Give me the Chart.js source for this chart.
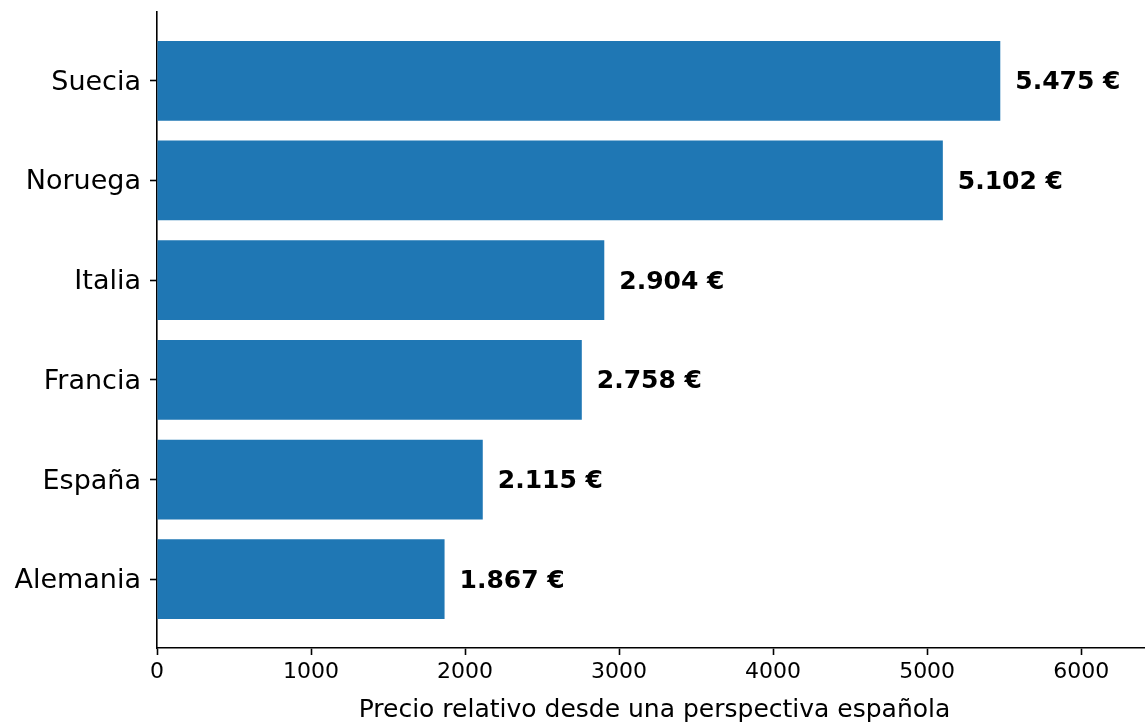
<!DOCTYPE html>
<html>
<head>
<meta charset="utf-8">
<script src="https://cdn.jsdelivr.net/npm/chart.js@4/dist/chart.umd.min.js"></script>
<style>
  html, body { margin: 0; padding: 0; background: #fff; overflow: hidden; }
  #wrap { width: 1152px; height: 725px; }
</style>
</head>
<body>
<div id="wrap"><canvas id="chart" width="1152" height="725"></canvas></div>
<script>
// bottom to top, as in the original plot
const countries = ['Alemania', 'España', 'Francia', 'Italia', 'Noruega', 'Suecia'];
const prices = [1867, 2115, 2758, 2904, 5102, 5475];
const xTicks = [0, 1000, 2000, 3000, 4000, 5000, 6000];

function euro(v) {
  return v.toLocaleString('es-ES', { useGrouping: 'always' }).replace(/\s/g, '.').replace(',', '.') + ' €';
}

const valueLabels = {
  id: 'valueLabels',
  afterDatasetsDraw(chart) {
    const ctx = chart.ctx;
    const meta = chart.getDatasetMeta(0);
    ctx.save();
    ctx.font = 'bold 25px "DejaVu Sans"';
    ctx.fillStyle = '#000';
    ctx.textAlign = 'left';
    ctx.textBaseline = 'middle';
    meta.data.forEach((bar, i) => {
      ctx.fillText(euro(prices[i]), bar.x + 15, bar.y + 2);
    });
    ctx.restore();
  }
};

new Chart(document.getElementById('chart').getContext('2d'), {
  type: 'bar',
  data: {
    datasets: [{
      data: prices.map((p, i) => ({ x: p, y: i })),
      backgroundColor: '#1f77b4',
      categoryPercentage: 1,
      barPercentage: 0.8
    }]
  },
  options: {
    indexAxis: 'y',
    responsive: false,
    animation: false,
    layout: { padding: { top: 12, right: 0, left: 0, bottom: 0 } },
    plugins: { legend: { display: false }, tooltip: { enabled: false } },
    scales: {
      x: {
        type: 'linear',
        min: 0,
        max: 6460,
        afterBuildTicks: (s) => { s.ticks = xTicks.map(v => ({ value: v })); },
        afterFit: (s) => { s.height = 77; },
        grid: { drawOnChartArea: false, tickLength: 7, color: '#000', tickWidth: 1.6 },
        border: { color: '#000', width: 1.6 },
        ticks: {
          color: '#000',
          font: { family: 'DejaVu Sans', size: 22 },
          padding: 4,
          callback: (v) => String(v)
        },
        title: {
          display: true,
          text: 'Precio relativo desde una perspectiva española',
          color: '#000',
          font: { family: 'DejaVu Sans', size: 25 },
          padding: { top: 0, bottom: 0 }
        }
      },
      y: {
        type: 'linear',
        min: -0.69,
        max: 5.69,
        offset: false,
        afterBuildTicks: (s) => { s.ticks = countries.map((c, i) => ({ value: i })); },
        afterFit: (s) => { s.width = 157; s.paddingTop = 0; s.paddingBottom = 0; },
        grid: { offset: false, drawOnChartArea: false, tickLength: 7, color: '#000', tickWidth: 1.6 },
        border: { color: '#000', width: 1.6 },
        ticks: {
          color: '#000',
          font: { family: 'DejaVu Sans', size: 27 },
          padding: 9,
          labelOffset: 2,
          callback: (v) => countries[v]
        }
      }
    }
  },
  plugins: [valueLabels]
});
</script>
</body>
</html>
